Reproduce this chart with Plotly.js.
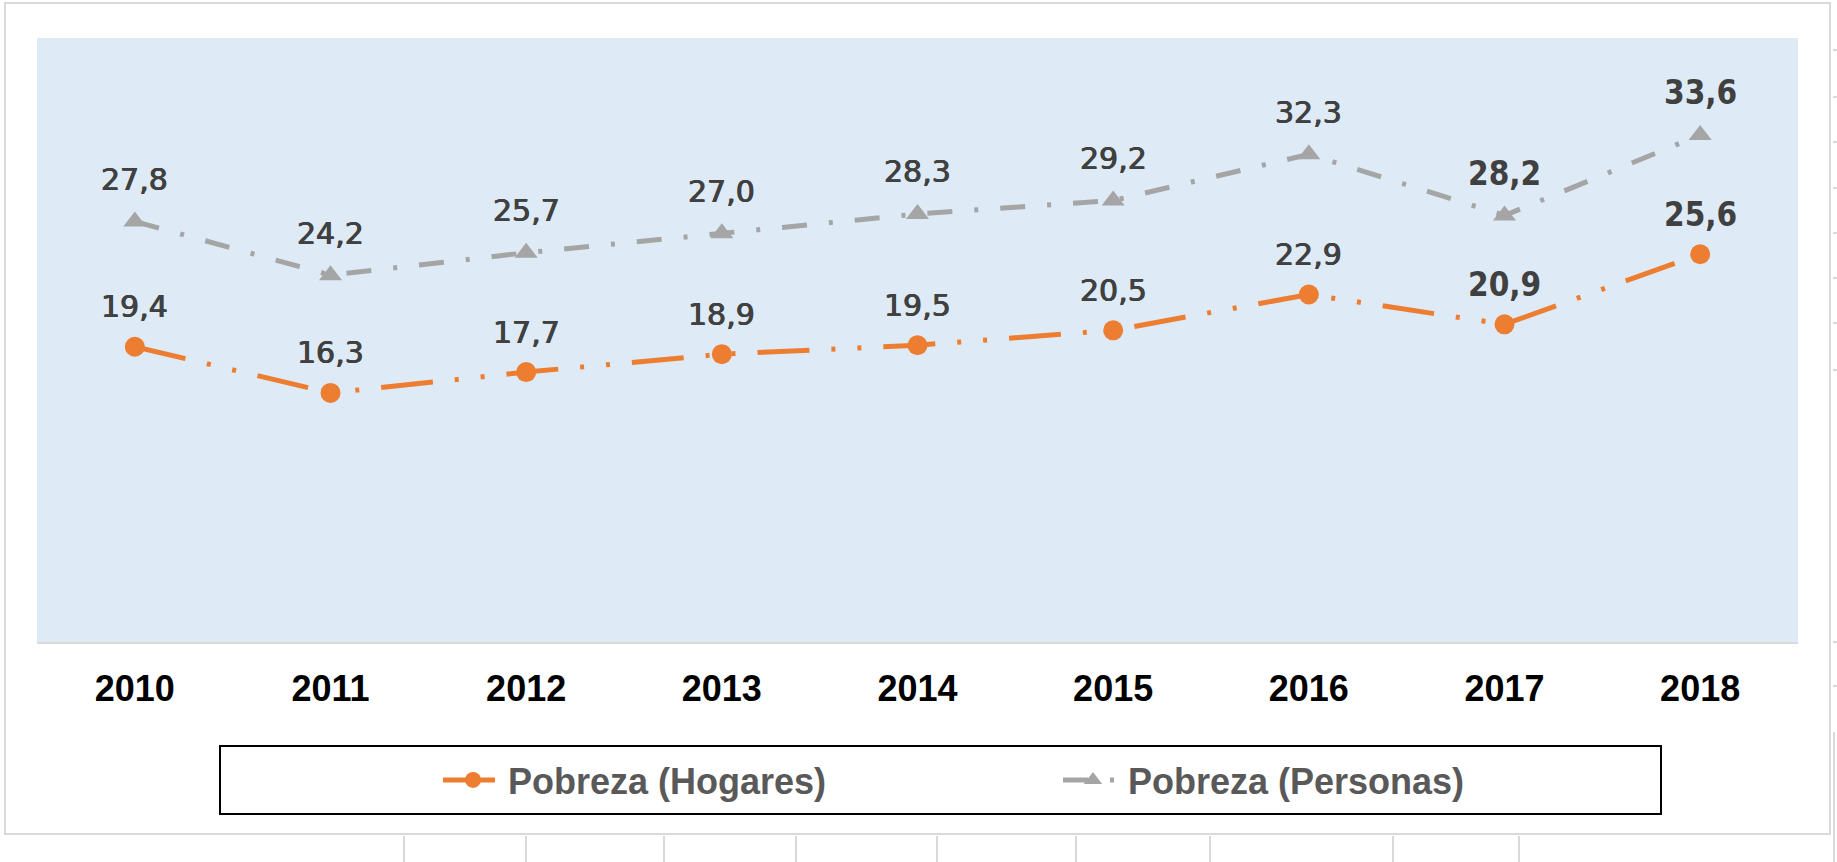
<!DOCTYPE html>
<html>
<head>
<meta charset="utf-8">
<script src="https://cdn.plot.ly/plotly-3.0.1.min.js"></script>
<style>
html,body{margin:0;padding:0;background:#ffffff;}
#chart{width:1837px;height:862px;}
#err{position:absolute;left:40px;top:400px;font:14px monospace;color:red;}
</style>
</head>
<body>
<div id="chart"></div>
<div id="err"></div>
<script>
window.onerror = function(m){ document.getElementById('err').textContent += ' ' + m; };
// ---- data ----
const years = ['2010','2011','2012','2013','2014','2015','2016','2017','2018'];
const hogares = [19.4, 16.3, 17.7, 18.9, 19.5, 20.5, 22.9, 20.9, 25.6];
const personas = [27.8, 24.2, 25.7, 27.0, 28.3, 29.2, 32.3, 28.2, 33.6];
const seriesNames = ['Pobreza (Hogares)', 'Pobreza (Personas)'];

// ---- geometry / style ----
const W = 1837, H = 862, L = 37, R = 39, T = 38, B = 220;
const pw = W - L - R, ph = H - T - B;
const px = x => (x - L) / pw;
const py = y => (H - B - y) / ph;
const ORANGE = '#ED7D31', GREY = '#A5A5A5', LABEL = '#404040';
const emphasisFrom = 7; // last labels drawn heavier

const fmt = v => v.toFixed(1).replace('.', ',');

const traces = [
  {
    x: years, y: hogares, type: 'scatter', mode: 'lines+markers',
    name: seriesNames[0], legend: 'legend', hoverinfo: 'skip',
    line: {color: ORANGE, width: 5, dash: '52px,22px,4px,22px,4px,22px'},
    marker: {symbol: 'circle', size: 20, color: ORANGE}
  },
  {
    x: years, y: personas, type: 'scatter', mode: 'lines+markers',
    name: seriesNames[1], legend: 'legend2', hoverinfo: 'skip',
    line: {color: GREY, width: 5, dash: '25px,22px,4px,22px'},
    marker: {symbol: 'triangle-up', size: 20, color: GREY}
  }
];

function labels(vals, shift) {
  return vals.map((v, i) => ({
    x: i, y: v, xref: 'x', yref: 'y', showarrow: false,
    text: i >= emphasisFrom ? '<b>' + fmt(v) + '</b>' : fmt(v),
    yshift: shift,
    font: i >= emphasisFrom
      ? {family: 'DejaVu Sans Condensed, DejaVu Sans', size: 33, color: LABEL}
      : {family: 'DejaVu Sans', size: 30, color: LABEL,
         shadow: '0.5px 0 0 ' + LABEL + ', -0.5px 0 0 ' + LABEL}
  }));
}
const annotations = labels(hogares, 40).concat(labels(personas, 42));

const shapes = [];
shapes.push({type: 'rect', xref: 'paper', yref: 'paper', x0: px(5), x1: px(1830), y0: py(834), y1: py(3),
  line: {color: '#D9D9D9', width: 2}, fillcolor: 'rgba(0,0,0,0)', layer: 'below'});
shapes.push({type: 'rect', xref: 'paper', yref: 'paper', x0: px(220), x1: px(1661), y0: py(814), y1: py(746),
  line: {color: '#000000', width: 2}, fillcolor: 'rgba(0,0,0,0)'});
[404, 526, 664, 796, 937, 1076, 1210, 1393, 1519].forEach(x => shapes.push({
  type: 'line', xref: 'paper', yref: 'paper', x0: px(x), x1: px(x), y0: py(836), y1: py(862),
  line: {color: '#D9D9D9', width: 2}}));
shapes.push({type: 'line', xref: 'paper', yref: 'paper', x0: px(1834), x1: px(1834), y0: py(732), y1: py(862),
  line: {color: '#D9D9D9', width: 2}});
[50, 97, 142, 188, 233, 278, 323, 370, 642, 686].forEach(y => shapes.push({
  type: 'line', xref: 'paper', yref: 'paper', x0: px(1833), x1: px(1837), y0: py(y), y1: py(y),
  line: {color: '#D9D9D9', width: 2}}));

const legendFont = {family: 'Liberation Sans, Arial, sans-serif', size: 36, color: '#595959', weight: 'bold'};

const layout = {
  width: W, height: H,
  margin: {l: L, r: R, t: T, b: B, pad: 0},
  paper_bgcolor: '#ffffff',
  plot_bgcolor: '#DEEBF7',
  showlegend: true,
  xaxis: {
    type: 'category', range: [-0.5, 8.5], fixedrange: true,
    showgrid: false, zeroline: false, showline: true, linecolor: '#D9D9D9', linewidth: 2,
    ticks: '', ticklabelstandoff: 14,
    tickfont: {family: 'Liberation Sans, Arial, sans-serif', size: 36, color: '#000000', weight: 'bold'}
  },
  yaxis: {
    range: [-0.4, 40.1], fixedrange: true,
    showgrid: false, zeroline: false, showline: false, showticklabels: false, ticks: ''
  },
  legend: {orientation: 'h', x: px(438), xanchor: 'left', y: py(780), yanchor: 'middle',
    font: legendFont, bgcolor: 'rgba(0,0,0,0)', borderwidth: 0, itemwidth: 60},
  legend2: {orientation: 'h', x: px(1058), xanchor: 'left', y: py(780), yanchor: 'middle',
    font: legendFont, bgcolor: 'rgba(0,0,0,0)', borderwidth: 0, itemwidth: 60},
  annotations: annotations,
  shapes: shapes
};

Plotly.newPlot('chart', traces, layout, {staticPlot: true, displayModeBar: false})
  .catch(e => { document.getElementById('err').textContent += ' ' + e; });
</script>
</body>
</html>
